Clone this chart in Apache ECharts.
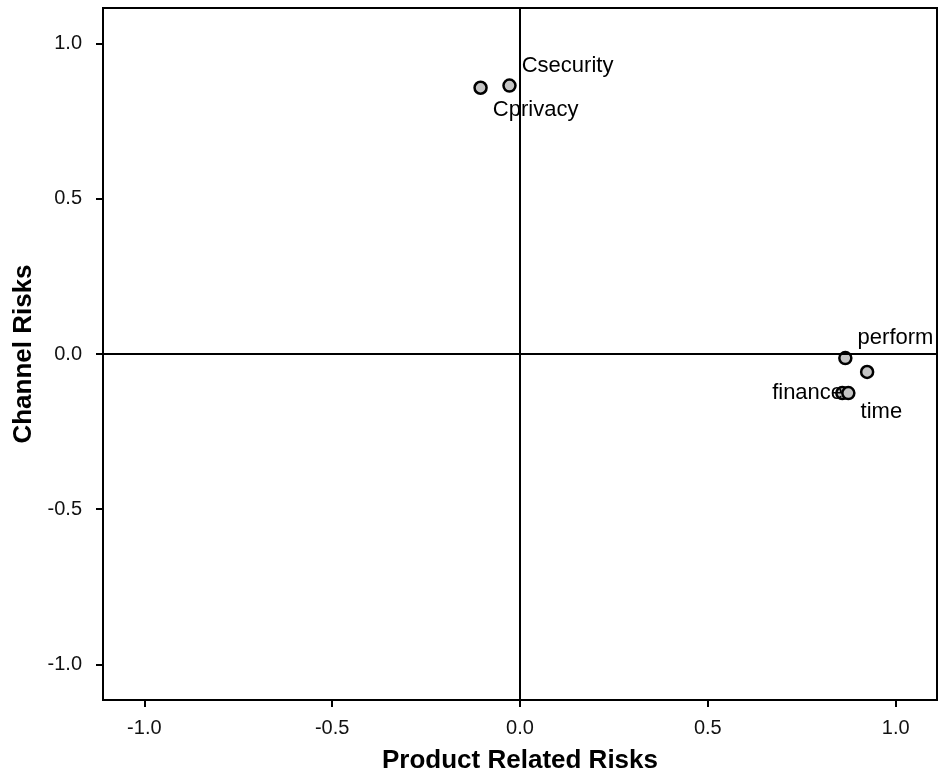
<!DOCTYPE html>
<html>
<head>
<meta charset="utf-8">
<script src="https://cdn.jsdelivr.net/npm/echarts@6/dist/echarts.min.js"></script>
<style>
  html, body { margin: 0; padding: 0; background: #fff; }
  #chart { width: 941px; height: 783px; }
</style>
</head>
<body>
<div id="chart"></div>
<script>
// loadings
const names = ['Cprivacy', 'Csecurity', 'perform', '', 'finance', 'time']
const productRisk = [-0.105, -0.028, 0.866, 0.924, 0.858, 0.874]
const channelRisk = [0.858, 0.865, -0.013, -0.058, -0.126, -0.126]
const tickValues = [-1.0, -0.5, 0.0, 0.5, 1.0]

// where each label sits next to its point
const labelPlace = [
  { position: 'right', offset: [0, 22] },
  { position: 'right', offset: [0, -20] },
  { position: 'right', offset: [0, -20] },
  { position: 'right', offset: [0, 0] },
  { position: 'left', offset: [13, 0] },
  { position: 'right', offset: [0, 19] },
]

const font = "'Liberation Sans', Arial, sans-serif"

const points = names.map((n, i) => ({
  name: n,
  value: [productRisk[i], channelRisk[i]],
  label: { show: n !== '', ...labelPlace[i] },
}))

const axisCommon = {
  type: 'value',
  min: -1.11,
  max: 1.11,
  nameLocation: 'middle',
  nameTextStyle: { fontFamily: font, fontSize: 26, fontWeight: 'bold', color: '#000' },
  axisLine: { show: true, onZero: false, lineStyle: { color: '#000', width: 2 } },
  axisTick: { show: true, customValues: tickValues, length: 7, lineStyle: { color: '#000', width: 2 } },
  axisLabel: {
    customValues: tickValues,
    fontFamily: font,
    fontSize: 20,
    color: '#111',
    formatter: (v) => v.toFixed(1),
  },
  splitLine: { show: false },
}

const chart = echarts.init(document.getElementById('chart'))
chart.setOption({
  backgroundColor: '#fff',
  animation: false,
  grid: {
    left: 103, right: 4, top: 8, bottom: 83,
    show: true, borderColor: '#000', borderWidth: 2,
  },
  xAxis: {
    ...axisCommon,
    name: 'Product Related Risks',
    nameGap: 48,
    axisLabel: { ...axisCommon.axisLabel, margin: 18 },
  },
  yAxis: {
    ...axisCommon,
    min: -1.115,
    max: 1.115,
    name: 'Channel Risks',
    nameGap: 64,
    axisLabel: { ...axisCommon.axisLabel, margin: 21 },
  },
  series: [
    {
      type: 'scatter',
      data: points,
      symbol: 'circle',
      symbolSize: 12,
      itemStyle: { color: '#c4c4c4', borderColor: '#000', borderWidth: 2.5, opacity: 1 },
      label: {
        formatter: (p) => p.name,
        fontFamily: font,
        fontSize: 22,
        color: '#000',
      },
      markLine: {
        silent: true,
        symbol: 'none',
        label: { show: false },
        lineStyle: { color: '#000', width: 2, type: 'solid' },
        data: [{ xAxis: 0 }, { yAxis: 0 }],
      },
      z: 3,
    },
  ],
})
</script>
</body>
</html>
